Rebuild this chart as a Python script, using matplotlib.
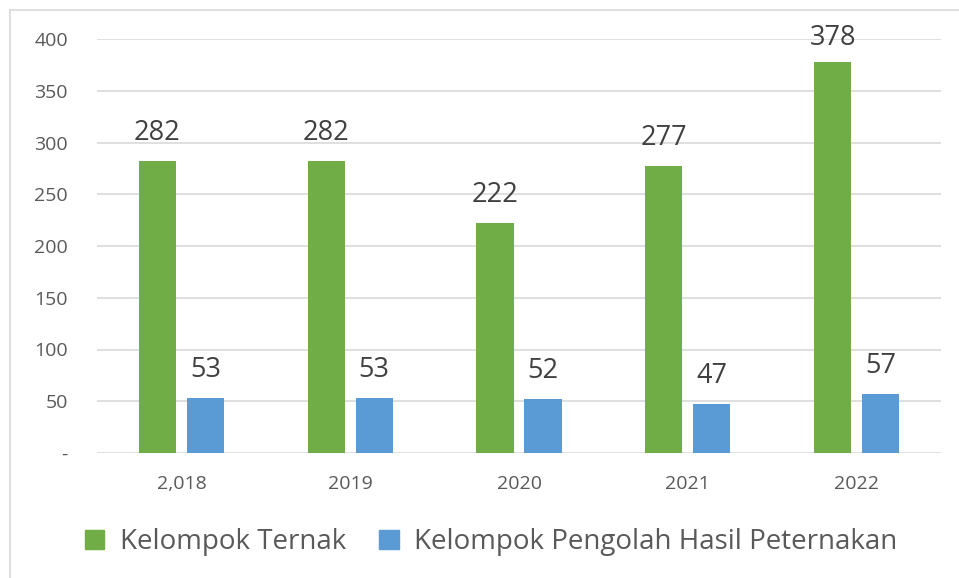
import matplotlib.pyplot as plt
import matplotlib.patches as mpatches
import numpy as np

years = ["2,018", "2019", "2020", "2021", "2022"]
ternak = [282, 282, 222, 277, 378]
pengolah = [53, 53, 52, 47, 57]
series_names = ["Kelompok Ternak", "Kelompok Pengolah Hasil Peternakan"]
green = "#70ad47"
blue = "#5b9bd5"

plt.rcParams["font.family"] = ["Open Sans", "DejaVu Sans"]

fig = plt.figure(figsize=(9.59, 5.78), dpi=100)
ax = fig.add_axes([97 / 959, 1 - 453 / 578, 844 / 959, 414 / 578])

x = np.arange(len(years))
w = 0.22
off = 0.142
b1 = ax.bar(x - off, ternak, w, color=green, zorder=3)
b2 = ax.bar(x + off, pengolah, w, color=blue, zorder=3)

for bars, vals in ((b1, ternak), (b2, pengolah)):
    for r, v in zip(bars, vals):
        # keep the tallest label from rising above the top gridline area
        dy = 7 if v > 350 else 10
        ax.annotate(str(v), (r.get_x() + r.get_width() / 2, v),
                    xytext=(0, dy), textcoords="offset points",
                    ha="center", va="bottom", fontsize=19.5, color="#404040")

ax.set_xlim(-0.5, len(years) - 0.5)
ax.set_ylim(0, 400)
ax.set_yticks(range(0, 401, 50))
ax.set_yticklabels(["-"] + [str(v) for v in range(50, 401, 50)])
ax.set_xticks(x)
ax.set_xticklabels(years)
ax.tick_params(axis="both", length=0, labelsize=14, colors="#595959")
ax.tick_params(axis="y", pad=21)
ax.tick_params(axis="x", pad=16)
ax.grid(axis="y", color="#d9d9d9", linewidth=1.2, zorder=0)
for s in ax.spines.values():
    s.set_visible(False)

# chart area frame (left and top edges)
fig.add_artist(plt.Line2D([10 / 959, 10 / 959], [0, 1 - 10 / 578],
                          transform=fig.transFigure, color="#d9d9d9", lw=1.2))
fig.add_artist(plt.Line2D([10 / 959, 1], [1 - 10 / 578, 1 - 10 / 578],
                          transform=fig.transFigure, color="#d9d9d9", lw=1.2))

handles = [mpatches.Patch(color=green, label=series_names[0]),
           mpatches.Patch(color=blue, label=series_names[1])]
fig.legend(handles=handles, loc="center", bbox_to_anchor=(491 / 959, 1 - 542 / 578),
           ncol=2, frameon=False, fontsize=20, labelcolor="#595959",
           handlelength=0.7, handleheight=0.7, handletextpad=0.55, columnspacing=1.2)

fig.savefig("out.png", dpi=100)
